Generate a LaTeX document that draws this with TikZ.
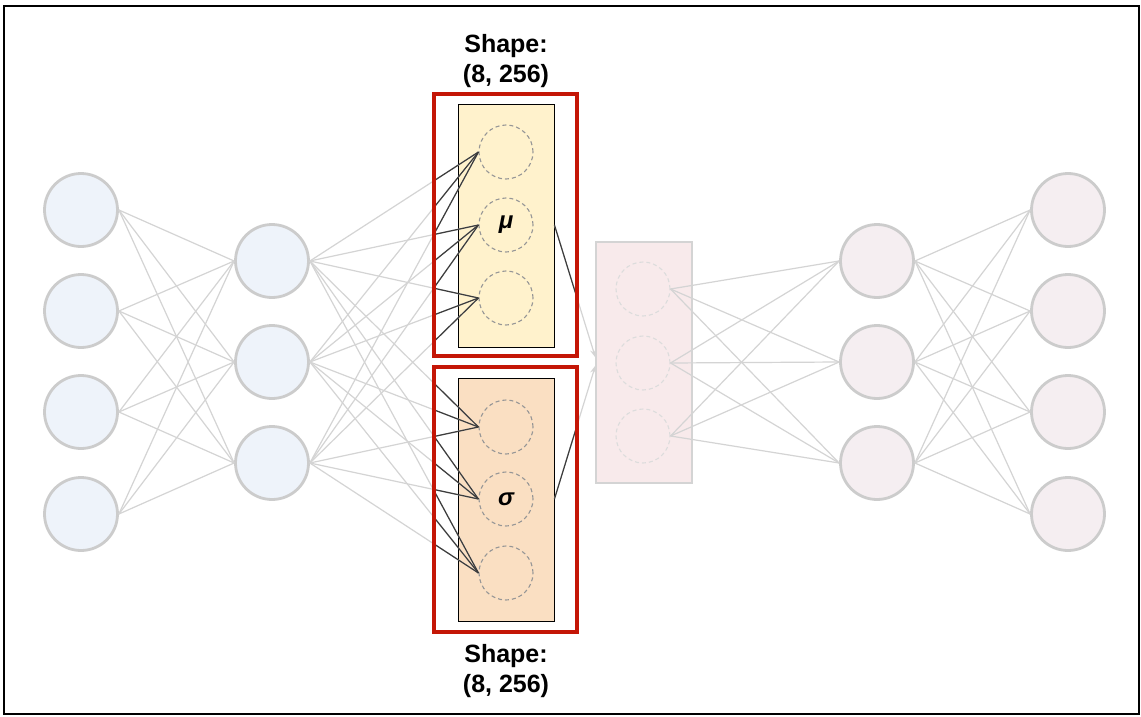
\documentclass[tikz,border=0pt]{standalone}
\usepackage{fontspec}
\setmainfont{Liberation Sans}
\usetikzlibrary{arrows.meta}
\definecolor{encfill}{RGB}{238,243,250}
\definecolor{decfill}{RGB}{245,238,241}
\definecolor{ringgray}{RGB}{204,204,204}
\definecolor{conngray}{RGB}{212,212,212}
\definecolor{darkconn}{RGB}{60,60,60}
\definecolor{mufill}{RGB}{255,242,204}
\definecolor{sigfill}{RGB}{250,223,194}
\definecolor{latfill}{RGB}{248,234,235}
\definecolor{redbox}{RGB}{196,22,6}
\definecolor{dashgray}{RGB}{150,150,150}
\definecolor{latdash}{RGB}{220,220,220}
\begin{document}
\begin{tikzpicture}[x=1pt,y=-1pt,
  enc/.style={circle,draw=ringgray,line width=2.8pt,fill=encfill,minimum size=73pt,inner sep=0pt},
  dec/.style={circle,draw=ringgray,line width=2.8pt,fill=decfill,minimum size=73pt,inner sep=0pt},
  conn/.style={draw=conngray,line width=1.2pt},
  dconn/.style={draw=darkconn,line width=1.2pt},
  dcirc/.style={circle,draw=dashgray,dash pattern=on 4pt off 3pt,line width=1.1pt,minimum size=54pt,inner sep=0pt,font=\fontsize{24}{24}\selectfont\bfseries\itshape},
  lcirc/.style={circle,draw=latdash,dash pattern=on 4pt off 3pt,line width=1.1pt,minimum size=54pt,inner sep=0pt},
  boxnode/.style={rectangle,draw=black,line width=0.9pt,minimum width=96pt,inner sep=0pt},
  redframe/.style={rectangle,minimum width=143pt,inner sep=0pt},
  redline/.style={draw=redbox,line width=3.6pt},
  lab/.style={align=center,font=\fontsize{25}{30}\selectfont\bfseries}
]
\useasboundingbox (0,0) rectangle (1141,717);
\fill[white] (0,0) rectangle (1141,717);
\draw[line width=2.2pt] (4,6) rectangle (1139,714);

% frames (geometry only, drawn later)
\node[redframe,minimum height=262pt] (mured) at (505.5,225) {};
\node[redframe,minimum height=265pt] (sigred) at (505.5,499.5) {};

% boxes
\node[boxnode,fill=mufill,minimum height=243pt] (mubox) at (506,225.5) {};
\node[boxnode,fill=sigfill,minimum height=243pt] (sigbox) at (506,499.5) {};
\node[rectangle,draw=conngray,line width=1.1pt,fill=latfill,minimum width=96pt,minimum height=241pt,inner sep=0pt] (lat) at (644,362.5) {};

% dashed circles
\node[dcirc] (m1) at (506,152) {};
\node[dcirc] (m2) at (506,225) {μ};
\node[dcirc] (m3) at (506,298) {};
\node[dcirc] (s1) at (506,427) {};
\node[dcirc] (s2) at (506,499) {σ};
\node[dcirc] (s3) at (506,573) {};
\node[lcirc] (l1) at (643,289) {};
\node[lcirc] (l2) at (643,363) {};
\node[lcirc] (l3) at (643,436) {};

% neurons
\foreach \i/\y in {1/210,2/311,3/412,4/514} \node[enc] (in\i) at (81,\y) {};
\foreach \i/\y in {1/261,2/362,3/463} \node[enc] (h\i) at (272,\y) {};
\foreach \i/\y in {1/261,2/362,3/463} \node[dec] (d\i) at (877,\y) {};
\foreach \i/\y in {1/210,2/311,3/412,4/514} \node[dec] (o\i) at (1068,\y) {};

% connections
\foreach \i in {1,2,3,4} \foreach \j in {1,2,3} \draw[conn] (in\i.east) -- (h\j.west);
\foreach \i in {1,2,3} \foreach \t in {m1,m2,m3,s1,s2,s3} \draw[conn] (h\i.east) -- (\t.west);
\foreach \i in {1,2,3} \foreach \j in {1,2,3} \draw[conn] (l\i.east) -- (d\j.west);
\foreach \i in {1,2,3} \foreach \j in {1,2,3,4} \draw[conn] (d\i.east) -- (o\j.west);
\draw[conn,-{Stealth[length=8pt,width=6pt]}] (mubox.east |- m2) -- ([yshift=5pt]lat.west);
\draw[conn,-{Stealth[length=8pt,width=6pt]}] (sigbox.east |- s2) -- ([yshift=-3pt]lat.west);

% highlighted parts inside red frames
\begin{scope}
\clip (mured.north west) rectangle (mured.south east)
      (sigred.north west) rectangle (sigred.south east);
\foreach \i in {1,2,3} \foreach \t in {m1,m2,m3,s1,s2,s3} \draw[dconn] (h\i.east) -- (\t.west);
\draw[dconn] (mubox.east |- m2) -- ([yshift=5pt]lat.west);
\draw[dconn] (sigbox.east |- s2) -- ([yshift=-3pt]lat.west);
\end{scope}

% red frames
\draw[redline] (mured.north west) rectangle (mured.south east);
\draw[redline] (sigred.north west) rectangle (sigred.south east);

% labels
\node[lab] (toplab) at (506,61) {Shape:\\(8, 256)};
\node[lab] (botlab) at (506,671) {Shape:\\(8, 256)};
\end{tikzpicture}
\end{document}
